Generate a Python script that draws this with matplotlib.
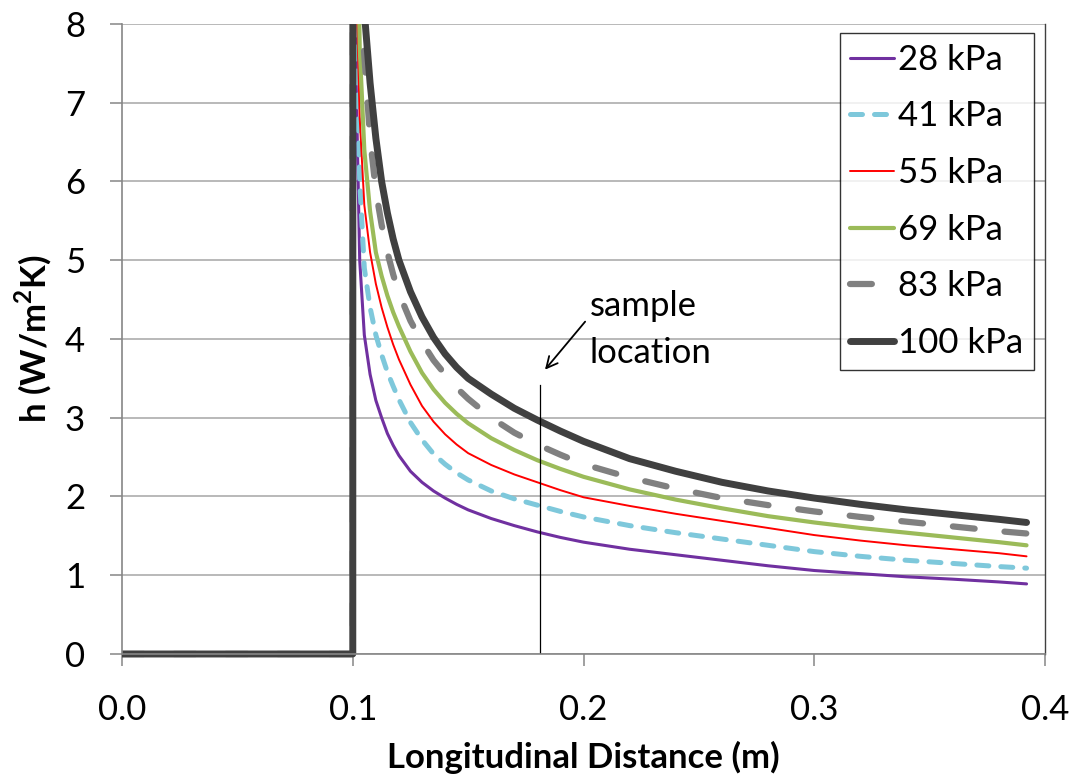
import matplotlib
matplotlib.use("Agg")
import matplotlib.pyplot as plt
from matplotlib.patches import Rectangle

plt.rcParams['font.family'] = ['Lato', 'DejaVu Sans']

# Longitudinal distance (m)
x_m = [0.0, 0.05, 0.1, 0.1001, 0.1015, 0.103, 0.105, 0.1075, 0.11, 0.1125, 0.115,
       0.1175, 0.12, 0.125, 0.13, 0.135, 0.14, 0.145, 0.15, 0.16, 0.17, 0.18,
       0.19, 0.2, 0.22, 0.24, 0.26, 0.28, 0.3, 0.32, 0.34, 0.36, 0.38, 0.392]

# Heat transfer coefficient h (W/m2K) per pressure
h_28 = [0, 0, 0, 30, 7.2, 5.0, 4.05, 3.55, 3.22, 3.0, 2.8,
        2.65, 2.52, 2.32, 2.18, 2.07, 1.98, 1.9, 1.83, 1.72, 1.63, 1.55,
        1.48, 1.42, 1.33, 1.26, 1.19, 1.12, 1.06, 1.02, 0.98, 0.95, 0.915, 0.89]
h_41 = [0, 0, 0, 30, 7.8, 6.0, 4.9, 4.4, 4.05, 3.8, 3.58,
        3.4, 3.23, 2.94, 2.72, 2.54, 2.41, 2.3, 2.21, 2.07, 1.97, 1.89,
        1.81, 1.74, 1.63, 1.54, 1.46, 1.38, 1.3, 1.24, 1.19, 1.15, 1.11, 1.09]
h_55 = [0, 0, 0, 30, 8.5, 6.8, 5.7, 5.1, 4.7, 4.4, 4.15,
        3.93, 3.74, 3.42, 3.15, 2.95, 2.79, 2.66, 2.55, 2.4, 2.28, 2.18,
        2.08, 1.99, 1.88, 1.78, 1.69, 1.6, 1.51, 1.44, 1.38, 1.33, 1.28, 1.24]
h_69 = [0, 0, 0, 30, 10.5, 7.7, 6.4, 5.62, 5.1, 4.8, 4.55,
        4.34, 4.16, 3.84, 3.57, 3.36, 3.19, 3.05, 2.93, 2.74, 2.59, 2.46,
        2.35, 2.25, 2.09, 1.96, 1.85, 1.75, 1.67, 1.6, 1.54, 1.48, 1.42, 1.38]
h_83 = [0, 0, 0, 30, 11.0, 8.7, 7.6, 6.55, 5.88, 5.45, 5.1,
        4.82, 4.58, 4.23, 3.96, 3.73, 3.55, 3.38, 3.24, 3.0, 2.81, 2.66,
        2.53, 2.41, 2.24, 2.1, 1.98, 1.89, 1.81, 1.74, 1.68, 1.62, 1.56, 1.53]
h_100 = [0, 0, 0, 30, 12.8, 9.9, 8.15, 7.25, 6.55, 6.0, 5.6,
         5.27, 5.0, 4.6, 4.28, 4.02, 3.81, 3.64, 3.5, 3.3, 3.12, 2.97,
         2.83, 2.7, 2.48, 2.32, 2.18, 2.07, 1.98, 1.9, 1.83, 1.77, 1.71, 1.67]

labels = ['28 kPa', '41 kPa', '55 kPa', '69 kPa', '83 kPa', '100 kPa']
series = [h_28, h_41, h_55, h_69, h_83, h_100]

sample_x = 0.181
sample_top = 3.42

fig = plt.figure(figsize=(10.81, 7.78), dpi=100)
ax = fig.add_axes([0.1129, 0.1594, 0.8538, 0.8098])

styles = [
    dict(color='#7030A0', lw=2.2),
    dict(color='#7EC8DB', lw=3.6, dashes=(2.4, 2.4), dash_capstyle='round'),
    dict(color='#FF0000', lw=1.4),
    dict(color='#9BBB59', lw=3.0),
    dict(color='#808080', lw=4.5, dashes=(3.5, 4.8), dash_capstyle='round'),
    dict(color='#404040', lw=5.0),
]

clip = Rectangle((0, -0.03), 1, 1.03, transform=ax.transAxes, facecolor='none', edgecolor='none')
ax.add_patch(clip)
for y, lab, st in zip(series, labels, styles):
    ln, = ax.plot(x_m, y, label=lab, solid_capstyle='round', solid_joinstyle='round', **st)
    ln.set_clip_path(clip)

ax.set_xlim(0, 0.4)
ax.set_ylim(0, 8)
ax.set_xticks([0.0, 0.1, 0.2, 0.3, 0.4])
ax.set_xticklabels(['0.0', '0.1', '0.2', '0.3', '0.4'])
ax.set_yticks(range(0, 9))

ax.grid(axis='y', color='#A6A6A6', lw=1.1)
ax.set_axisbelow(True)
for s in ['left', 'bottom']:
    ax.spines[s].set_color('#868686')
    ax.spines[s].set_linewidth(1.2)
ax.spines['top'].set_visible(False)
ax.spines['right'].set_color('#404040')
ax.spines['right'].set_linewidth(1.0)
ax.tick_params(axis='both', direction='out', length=8.5, width=1.1, color='#868686',
               labelsize=25, labelcolor='black')
ax.tick_params(axis='x', pad=20)
ax.tick_params(axis='y', pad=18)

ax.set_xlabel('Longitudinal Distance (m)', fontsize=25, fontweight='bold', va='center')
ax.xaxis.set_label_coords(0.5, -0.1635)
ax.set_ylabel('h (W/m$^{\\mathregular{2}}$K)', fontsize=25, fontweight='bold', va='center')
ax.yaxis.set_label_coords(-0.0964, 0.5)

# sample location marker
ax.plot([sample_x, sample_x], [0, sample_top], color='black', lw=0.9)
ax.annotate('', xy=(0.1833, 3.61), xytext=(0.2007, 4.22),
            arrowprops=dict(arrowstyle='->', color='black', lw=1.3,
                            mutation_scale=20, shrinkA=0, shrinkB=0))
ax.text(0.2028, 4.12, 'sample\nlocation', fontsize=25, ha='left', va='center',
        linespacing=1.55)

leg = ax.legend(loc='upper right', bbox_to_anchor=(0.988, 0.985), borderaxespad=0,
                fontsize=25, frameon=True, fancybox=False, edgecolor='black',
                handlelength=1.27, handletextpad=0.12, labelspacing=0.71,
                borderpad=0.3)
leg.get_frame().set_linewidth(1.0)

fig.savefig('out.png', dpi=100)
